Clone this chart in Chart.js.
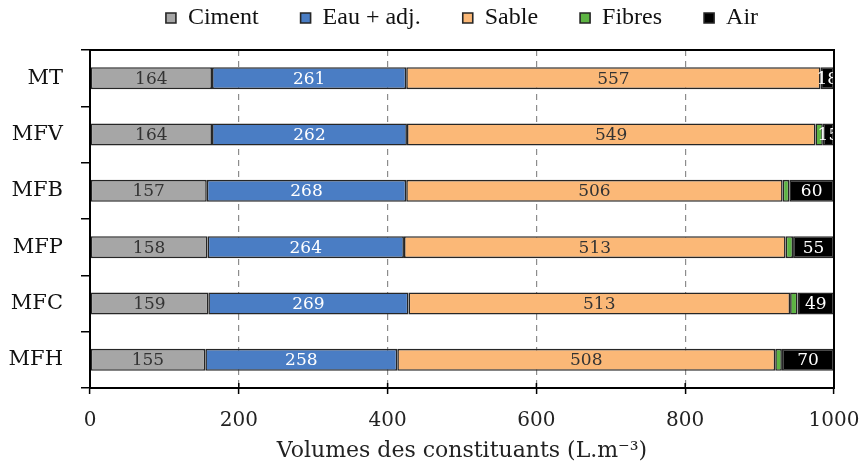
<!DOCTYPE html>
<html>
<head>
<meta charset="utf-8">
<title>Volumes des constituants</title>
<script src="https://cdn.jsdelivr.net/npm/chart.js@4.4.1/dist/chart.umd.min.js"></script>
<style>
  html, body { margin: 0; padding: 0; background: #ffffff; }
  #c { display: block; }
</style>
</head>
<body>
<canvas id="c" width="861" height="465"></canvas>
<script>
// Mélanges étudiés
const categories = ['MT', 'MFV', 'MFB', 'MFP', 'MFC', 'MFH'];

// Volumes des constituants (L/m3)
const ciment = [164, 164, 157, 158, 159, 155];
const eauAdj = [261, 262, 268, 264, 269, 258];
const sable  = [557, 549, 506, 513, 513, 508];
const fibres = [0, 10, 9, 10, 10, 9];
const air    = [18, 15, 60, 55, 49, 70];

// Graduations de l'axe des volumes
const xTicks = [0, 200, 400, 600, 800, 1000];

const serif = '"DejaVu Serif", "Liberation Serif", serif';

// Valeurs écrites au centre de chaque segment
const segmentLabels = {
  id: 'segmentLabels',
  afterDatasetsDraw(chart) {
    const ctx = chart.ctx;
    ctx.save();
    ctx.font = '17px ' + serif;
    ctx.textAlign = 'center';
    ctx.textBaseline = 'middle';
    chart.data.datasets.forEach((ds, i) => {
      if (!ds.labelColor) return;
      const meta = chart.getDatasetMeta(i);
      meta.data.forEach((bar, j) => {
        const v = ds.data[j];
        if (!v) return;
        const cx = (bar.x + bar.base) / 2;
        ctx.fillStyle = ds.labelColor;
        ctx.fillText(String(v), cx, bar.y + 1);
      });
    });
    ctx.restore();
  }
};

// Cadre noir autour de la zone de tracé et petites graduations intérieures
const frame = {
  id: 'frame',
  afterDraw(chart) {
    const { ctx, chartArea: a } = chart;
    const xs = chart.scales.x;
    ctx.save();
    ctx.strokeStyle = '#000';
    ctx.lineWidth = 2;
    ctx.strokeRect(a.left, a.top, a.right - a.left, a.bottom - a.top);
    ctx.lineWidth = 1.5;
    xTicks.forEach(t => {
      const px = xs.getPixelForValue(t);
      ctx.beginPath();
      ctx.moveTo(px, a.bottom);
      ctx.lineTo(px, a.bottom - 5);
      ctx.stroke();
    });
    ctx.restore();
  }
};

const edge = '#262626';

new Chart(document.getElementById('c'), {
  type: 'bar',
  data: {
    labels: categories,
    datasets: [
      { label: 'Ciment', data: ciment, backgroundColor: '#A6A6A6', labelColor: '#333333' },
      { label: 'Eau + adj.', data: eauAdj, backgroundColor: '#4A7DC4', labelColor: '#ffffff' },
      { label: 'Sable', data: sable, backgroundColor: '#FBB877', labelColor: '#333333' },
      { label: 'Fibres', data: fibres, backgroundColor: '#5DB443' },
      { label: 'Air', data: air, backgroundColor: '#000000', labelColor: '#ffffff' }
    ].map(d => Object.assign({
      borderColor: edge,
      borderWidth: 1.6,
      borderSkipped: false,
      categoryPercentage: 1,
      barPercentage: 0.39
    }, d))
  },
  options: {
    indexAxis: 'y',
    responsive: false,
    devicePixelRatio: 1,
    animation: false,
    layout: { padding: { top: -36, right: 27, bottom: 0, left: 0 } },
    scales: {
      x: {
        stacked: true,
        min: 0,
        max: 1000,
        afterBuildTicks(scale) { scale.ticks = xTicks.map(v => ({ value: v })); },
        afterFit(scale) {
          scale.height = 77;
          scale.paddingLeft = 0;
          scale.paddingRight = 0;
        },
        border: { display: true, color: '#000', width: 2, dash: [6, 5] },
        grid: {
          color: ctx => (ctx.tick && (ctx.tick.value === 0 || ctx.tick.value === 1000)) ? 'rgba(0,0,0,0)' : '#8c8c8c',
          lineWidth: 1.2,
          tickColor: '#000',
          tickWidth: 1.5,
          tickLength: 6,
          tickBorderDash: []
        },
        ticks: {
          color: '#222',
          font: { family: serif, size: 20 },
          padding: 15,
          maxRotation: 0,
          callback: v => String(v)
        },
        title: {
          display: true,
          text: 'Volumes des constituants (L.m⁻³)',
          color: '#222',
          font: { family: serif, size: 22 },
          padding: { top: 0, bottom: 1 }
        }
      },
      y: {
        stacked: true,
        afterFit(scale) { scale.width = 90; },
        border: { display: true, color: '#000', width: 2 },
        grid: {
          offset: true,
          drawOnChartArea: false,
          color: '#000',
          lineWidth: 1.5,
          tickLength: 9
        },
        ticks: {
          color: '#111',
          font: { family: serif, size: 21 },
          padding: 18
        }
      }
    },
    plugins: {
      tooltip: { enabled: false },
      title: {
        display: true,
        text: '',
        weight: 500,
        fullSize: false,
        font: { size: 10, lineHeight: 1 },
        padding: 0
      },
      legend: {
        position: 'top',
        fullSize: false,
        labels: {
          boxWidth: 10,
          boxHeight: 10,
          padding: 42,
          color: '#111',
          font: { family: '"Liberation Serif", "Times New Roman", serif', size: 24 }
        }
      }
    }
  },
  plugins: [segmentLabels, frame]
});
</script>
</body>
</html>
